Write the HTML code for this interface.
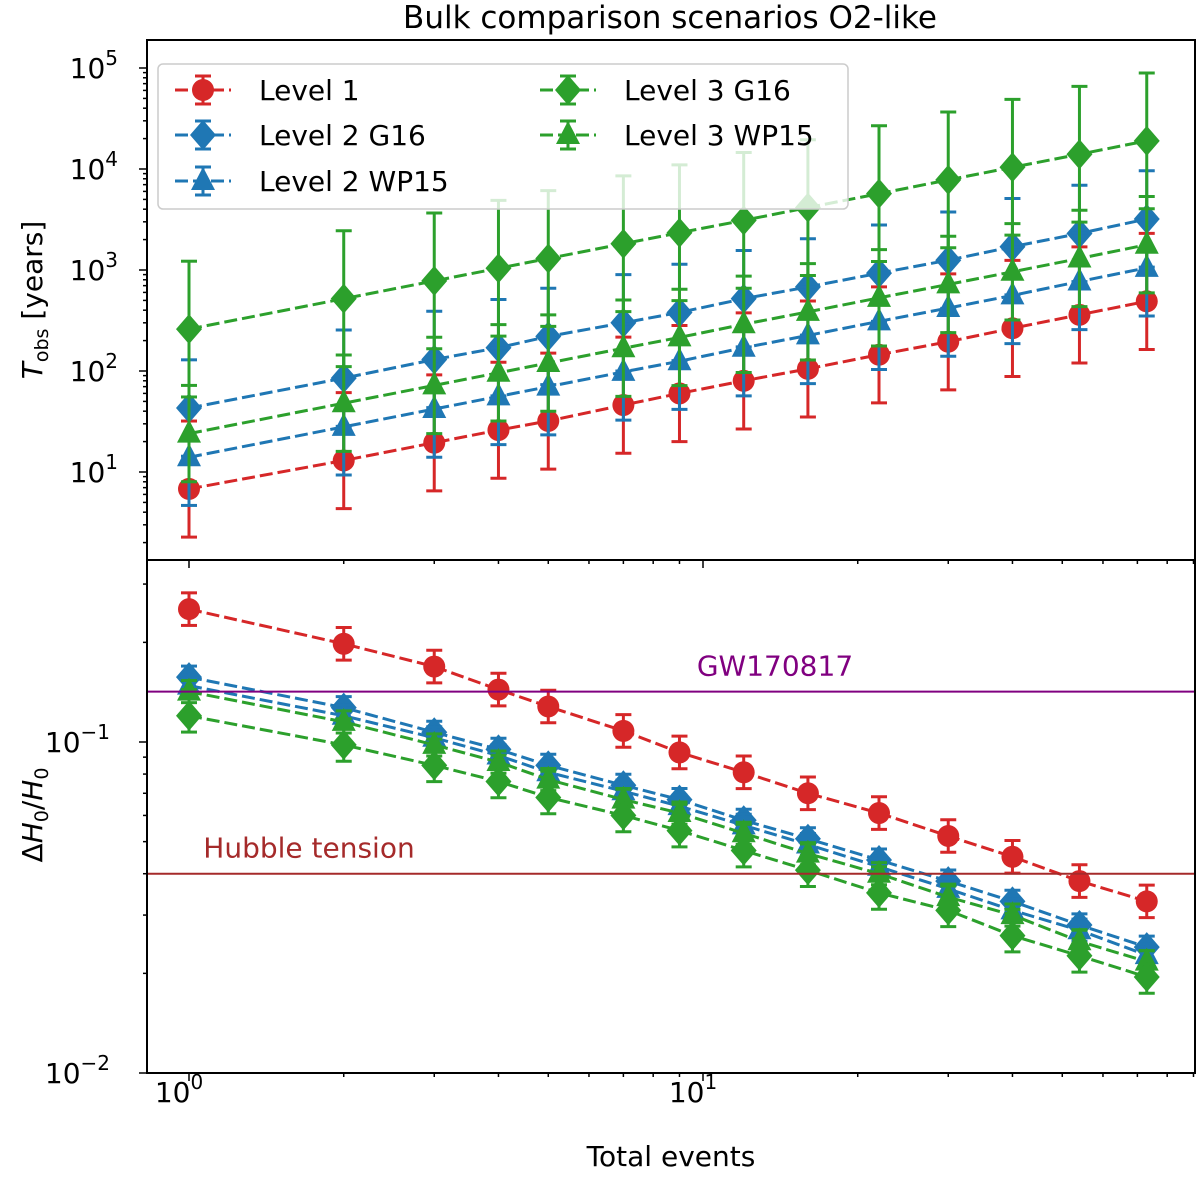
<!DOCTYPE html>
<html><head><meta charset="utf-8"><style>
body{margin:0;background:#fff;}
svg text{font-family:"DejaVu Sans","Liberation Sans",sans-serif;}
</style></head><body>
<svg id="chart" width="1200" height="1182" xmlns="http://www.w3.org/2000/svg">
<rect width="1200" height="1182" fill="#fff"/>
<text x="670" y="28" font-size="31" text-anchor="middle">Bulk comparison scenarios O2-like</text>
<g id="topPanel"></g>
<g id="botPanel"></g>
</svg>
<script>
const events=[1,2,3,4,5,7,9,12,16,22,30,40,54,73];
const tL1=[6.8,13,19.5,26,32,46,60,80,105,145,195,265,360,490];
const tL2G=[43,85,130,170,220,300,380,520,680,930,1250,1700,2300,3200];
const tL2W=[14,28,42,56,70,98,125,170,225,310,420,560,770,1050];
const tL3G=[260,520,780,1040,1300,1820,2340,3100,4150,5700,7800,10400,14000,19000];
const tL3W=[24,48,72,96,120,168,215,290,385,530,720,960,1300,1780];
const hL1=[0.252,0.198,0.169,0.144,0.128,0.108,0.093,0.081,0.070,0.061,0.052,0.045,0.038,0.033];
const hL2G=[0.157,0.127,0.107,0.095,0.085,0.074,0.067,0.058,0.051,0.044,0.038,0.033,0.028,0.024];
const hL2W=[0.148,0.120,0.103,0.091,0.081,0.071,0.064,0.056,0.049,0.042,0.036,0.031,0.027,0.0227];
const hL3W=[0.142,0.115,0.098,0.087,0.077,0.067,0.061,0.053,0.046,0.040,0.034,0.030,0.025,0.0217];
const hL3G=[0.120,0.098,0.085,0.076,0.068,0.060,0.054,0.047,0.041,0.035,0.031,0.026,0.0226,0.0195];
const refGW=0.142, refHubble=0.040;

const NS="http://www.w3.org/2000/svg";
const svgRoot=document.getElementById('chart');
function el(t,a,p){const e=document.createElementNS(NS,t);for(const k in a)e.setAttribute(k,a[k]);(p||svgRoot).appendChild(e);return e;}
const X=v=>189+514*Math.log10(v);
const YT=v=>472-101*(Math.log10(v)-1);
const YB=v=>742-331*(Math.log10(v)+1);
const L=147,R=1195,T0=40,T1=560,B1=1073;
const RED='#d62728',BLUE='#1f77b4',GREEN='#2ca02c';

function marker(g,type,x,y,c,name){
  let m;
  if(type==='o')m=el('circle',{cx:x,cy:y,r:11,fill:c},g);
  else if(type==='D')m=el('polygon',{points:`${x},${y-15} ${x+13},${y} ${x},${y+15} ${x-13},${y}`,fill:c},g);
  else m=el('polygon',{points:`${x},${y-14} ${x+12},${y+9} ${x-12},${y+9}`,fill:c},g);
  
  
}
function series(g,vals,Y,c,type,lo,hi,name){
  const s=el('g',{},g);
  
  
  vals.forEach((v,i)=>{const x=X(events[i]);const y1=Y(v/lo),y2=Y(v*hi);
    el('line',{x1:x,x2:x,y1:y1,y2:y2,stroke:c,'stroke-width':3},s);
    el('line',{x1:x-8,x2:x+8,y1:y1,y2:y1,stroke:c,'stroke-width':3},s);
    el('line',{x1:x-8,x2:x+8,y1:y2,y2:y2,stroke:c,'stroke-width':3},s);});
  el('polyline',{points:vals.map((v,i)=>X(events[i])+','+Y(v)).join(' '),fill:'none',stroke:c,'stroke-width':3,'stroke-dasharray':'13,5'},s);
  vals.forEach((v,i)=>marker(s,type,X(events[i]),Y(v),c,name+'-point'));
}
const topG=document.getElementById('topPanel'),botG=document.getElementById('botPanel');
const defs=el('defs',{});
const cpT=el('clipPath',{id:'cT'},defs);el('rect',{x:L,y:T0,width:R-L,height:T1-T0},cpT);
const cpB=el('clipPath',{id:'cB'},defs);el('rect',{x:L,y:T1,width:R-L,height:B1-T1},cpB);
const gT=el('g',{'clip-path':'url(#cT)'},topG),gB=el('g',{'clip-path':'url(#cB)'},botG);
series(gT,tL1,YT,RED,'o',3,4.7,'level1-top');
series(gT,tL2G,YT,BLUE,'D',3,3,'level2-g16-top');
series(gT,tL2W,YT,BLUE,'^',3,3,'level2-wp15-top');
series(gT,tL3G,YT,GREEN,'D',4.7,4.7,'level3-g16-top');
series(gT,tL3W,YT,GREEN,'^',3,3,'level3-wp15-top');
series(gB,hL1,YB,RED,'o',1.12,1.12,'level1-bottom');
series(gB,hL2G,YB,BLUE,'D',1.08,1.08,'level2-g16-bottom');
series(gB,hL2W,YB,BLUE,'^',1.08,1.08,'level2-wp15-bottom');
series(gB,hL3W,YB,GREEN,'^',1.08,1.08,'level3-wp15-bottom');
series(gB,hL3G,YB,GREEN,'D',1.12,1.2,'level3-g16-bottom');
let ln=el('line',{x1:L,x2:R,y1:YB(refGW),y2:YB(refGW),stroke:'#800080','stroke-width':2},botG);

let t=el('text',{x:775,y:YB(refGW)-16,'font-size':28,fill:'#800080','text-anchor':'middle'},botG);t.textContent='GW170817';

ln=el('line',{x1:L,x2:R,y1:YB(refHubble),y2:YB(refHubble),stroke:'#a52a2a','stroke-width':2},botG);

t=el('text',{x:309,y:YB(refHubble)-16,'font-size':28,fill:'#a52a2a','text-anchor':'middle'},botG);t.textContent='Hubble tension';

el('rect',{x:L,y:T0,width:R-L,height:T1-T0,fill:'none',stroke:'#000','stroke-width':2},topG);
el('rect',{x:L,y:T1,width:R-L,height:B1-T1,fill:'none',stroke:'#000','stroke-width':2},botG);
for(let d=0;d<2;d++)for(let k=1;k<10;k++){const v=k*Math.pow(10,d);const x=X(v);if(x>R)continue;const len=k===1?8:4;
  el('line',{x1:x,x2:x,y1:B1,y2:B1+len,stroke:'#000','stroke-width':1.5},botG);
  el('line',{x1:x,x2:x,y1:T1,y2:T1+len,stroke:'#000','stroke-width':1.5},topG);}
function pow10(g,x,y,exp,anchor,name){const tx=el('text',{x:x,y:y,'font-size':28,'text-anchor':anchor},g);
  
  const a=el('tspan',{},tx);a.textContent='10';const b=el('tspan',{dy:-13,'font-size':20},tx);b.textContent=exp;}
pow10(botG,X(1)-10,1102,'0','middle','x-tick-1');pow10(botG,X(10)-10,1102,'1','middle','x-tick-10');
for(let d=0;d<6;d++)for(let k=1;k<10;k++){const v=k*Math.pow(10,d);const y=YT(v);if(y<T0||y>T1)continue;const len=k===1?8:4;
  el('line',{x1:L-len,x2:L,y1:y,y2:y,stroke:'#000','stroke-width':1.5},topG);}
[1,2,3,4,5].forEach(e=>pow10(topG,118,YT(Math.pow(10,e))+10,String(e),'end','y-tick-top'));
for(let d=-3;d<0;d++)for(let k=1;k<10;k++){const v=k*Math.pow(10,d);const y=YB(v);if(y<T1||y>B1)continue;const len=k===1?8:4;
  el('line',{x1:L-len,x2:L,y1:y,y2:y,stroke:'#000','stroke-width':1.5},botG);}
pow10(botG,110,YB(0.1)+10,'−1','end','y-tick-bottom');pow10(botG,110,YB(0.01)+10,'−2','end','y-tick-bottom');
t=el('text',{x:671,y:1166,'font-size':28,'text-anchor':'middle'},botG);t.textContent='Total events';

t=el('text',{transform:'translate(42,300) rotate(-90)','font-size':28,'text-anchor':'middle'},topG);
t.innerHTML='<tspan font-style="italic">T</tspan><tspan font-size="19" dy="6">obs</tspan><tspan dy="-6"> [years]</tspan>';

t=el('text',{transform:'translate(42,815) rotate(-90)','font-size':28,'text-anchor':'middle'},botG);
t.innerHTML='Δ<tspan font-style="italic">H</tspan><tspan font-size="19" dy="6">0</tspan><tspan dy="-6">/</tspan><tspan font-style="italic">H</tspan><tspan font-size="19" dy="6">0</tspan>';

const lg=el('g',{},topG);
el('rect',{x:158,y:64,width:690,height:145,rx:5,fill:'#fff','fill-opacity':0.8,stroke:'#ccc','stroke-width':1.5},lg);
const ent=[[175,90,RED,'o','Level 1'],[175,135,BLUE,'D','Level 2 G16'],[175,181,BLUE,'^','Level 2 WP15'],[540,90,GREEN,'D','Level 3 G16'],[540,135,GREEN,'^','Level 3 WP15']];
ent.forEach(e=>{const g=el('g',{},lg);
  const[x,y,c,m,l]=e;el('line',{x1:x,x2:x+56,y1:y,y2:y,stroke:c,'stroke-width':3,'stroke-dasharray':'13,5'},g);
  el('line',{x1:x+28,x2:x+28,y1:y-14,y2:y+14,stroke:c,'stroke-width':3},g);
  el('line',{x1:x+20,x2:x+36,y1:y-14,y2:y-14,stroke:c,'stroke-width':3},g);
  el('line',{x1:x+20,x2:x+36,y1:y+14,y2:y+14,stroke:c,'stroke-width':3},g);
  marker(g,m,x+28,y,c,'legend-marker');
  const tx=el('text',{x:x+84,y:y+10,'font-size':28},g);tx.textContent=l;});
</script>
</body></html>
